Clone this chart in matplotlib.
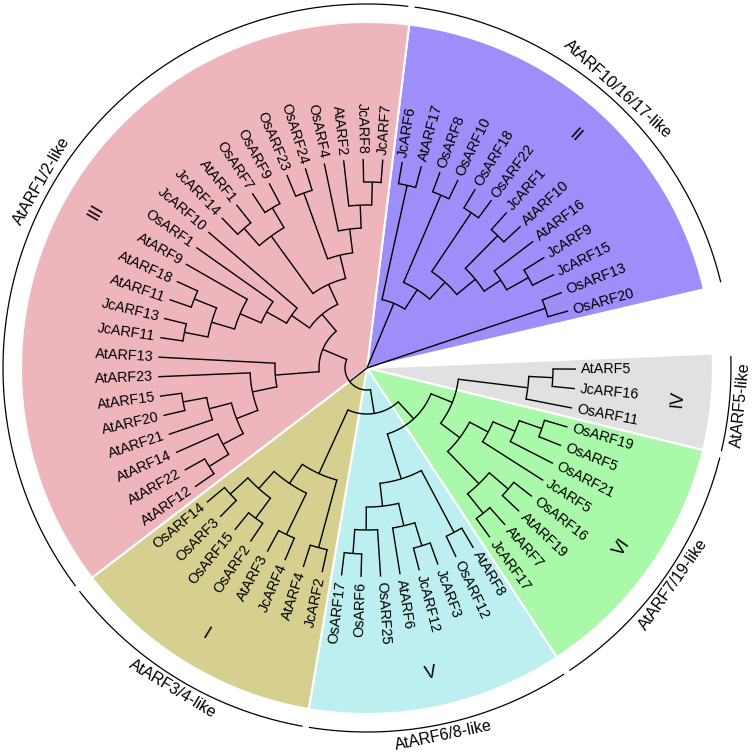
import numpy as np
import matplotlib
matplotlib.use("Agg")
import matplotlib.pyplot as plt
from matplotlib.patches import Wedge

# ---------------- data ----------------
clade_II = ["JcARF6", "AtARF17", "OsARF8", "OsARF10", "OsARF18", "OsARF22", "JcARF1",
            "AtARF10", "AtARF16", "JcARF9", "JcARF15", "OsARF13", "OsARF20"]
clade_IV = ["AtARF5", "JcARF16", "OsARF11"]
clade_VI = ["OsARF19", "OsARF5", "OsARF21", "JcARF5", "OsARF16", "AtARF19", "AtARF7", "JcARF17"]
clade_V = ["AtARF8", "OsARF12", "JcARF3", "JcARF12", "AtARF6", "OsARF25", "OsARF6", "OsARF17"]
clade_I = ["JcARF2", "AtARF4", "JcARF4", "AtARF3", "OsARF2", "OsARF15", "OsARF3", "OsARF14"]
clade_III = ["AtARF12", "AtARF22", "AtARF14", "AtARF21", "AtARF20", "AtARF15", "AtARF23",
             "AtARF13", "JcARF11", "JcARF13", "AtARF11", "AtARF18", "AtARF9", "OsARF1",
             "JcARF10", "JcARF14", "AtARF1", "OsARF7", "OsARF9", "OsARF23", "OsARF24",
             "OsARF4", "AtARF2", "JcARF8", "JcARF7"]

clade_order = [clade_II, None, clade_IV, clade_VI, clade_V, clade_I, clade_III]
gap_slots = 2
numerals = ["II", "IV", "VI", "V", "I", "III"]
group_labels = ["AtARF10/16/17-like", "AtARF5-like", "AtARF7/19-like",
                "AtARF6/8-like", "AtARF3/4-like", "AtARF1/2-like"]
clade_colors = ["#9D8EF9", "#E1E1E1", "#AAF8AA", "#BDEFF1", "#D6D090", "#EFB5BD"]

# tree topology: (node radius, [children]); leaves are names
II_main = (70, [(187, ["JcARF6", "AtARF17"]),
                (93, [(188, ["OsARF8", "OsARF10"]),
                      (116, [(187, ["OsARF18", "OsARF22"]),
                             (140, [(186, ["JcARF1", "AtARF10"]),
                                    (160, ["AtARF16", (185, ["JcARF9", "JcARF15"])])])])])])
II_b = (188, ["OsARF13", "OsARF20"])
IV_t = (162, [(186, ["AtARF5", "JcARF16"]), "OsARF11"])
VI_t = (116, [(137, [(161, [(185, ["OsARF19", "OsARF5"]), "OsARF21"]), "JcARF5"]),
              (161, [(186, ["OsARF16", "AtARF19"]), (186, ["AtARF7", "JcARF17"])])])
V_t = (116, [(139, [(162, [(186, ["OsARF17", "OsARF6"]), "OsARF25"]),
                    (162, ["AtARF6", (186, ["JcARF12", "JcARF3"])])]),
             (186, ["OsARF12", "AtARF8"])])
I_t = (116, [(139, [(162, [(186, ["OsARF14", "OsARF3"]), (187, ["OsARF2", "OsARF15"])]),
                    (185, ["JcARF4", "AtARF3"])]),
             (186, ["JcARF2", "AtARF4"])])
III_t = (48, [(70, [(92, [(115, [(138, [(162, [(186, ["AtARF18", "AtARF11"]),
                                                (186, ["JcARF13", "JcARF11"])]), "AtARF9"]),
                                 "OsARF1"]), "JcARF10"]),
                    (92, [(163, [(186, ["AtARF1", "JcARF14"]), (186, ["OsARF7", "OsARF9"])]),
                          (116, [(186, ["OsARF23", "OsARF24"]),
                                 (140, ["OsARF4", (163, ["AtARF2", (186, ["JcARF8", "JcARF7"])])])])])]),
              (92, ["AtARF13", (117, ["AtARF23",
                                      (140, [(163, [(187, ["AtARF15", "AtARF20"]), "AtARF21"]),
                                             (163, ["AtARF14", (186, ["AtARF22", "AtARF12"])])])])])])
tree = (0, [II_main, II_b, (22, [III_t, (46, [I_t, (69, [V_t, (92, [VI_t, IV_t])])])])])

# ---------------- geometry ----------------
TIP_R = 209
LABEL_R = 214
WEDGE_R = 346
ARC_R = 364
GROUP_R = 375.5
NUM_R = 312
START = 80.3
n_slots = sum(len(c) for c in clade_order if c) + gap_slots
STEP = 360.0 / n_slots

leaf_angle = {}
spans = []
k = 0
for c in clade_order:
    if c is None:
        k += gap_slots
        continue
    a_first = START - k * STEP
    for name in c:
        leaf_angle[name] = START - k * STEP
        k += 1
    a_last = START - (k - 1) * STEP
    spans.append((a_last - STEP / 2, a_first + STEP / 2))

fig = plt.figure(figsize=(7.52, 7.52), dpi=100)
ax = fig.add_axes([0, 0, 1, 1])
ax.set_xlim(-367, 385)
ax.set_ylim(-384, 368)
ax.set_aspect("equal")
ax.axis("off")

font = ["Liberation Sans", "DejaVu Sans"]

# wedges
for (t1, t2), col in zip(spans, clade_colors):
    ax.add_patch(Wedge((0, 0), WEDGE_R, t1, t2, facecolor=col, edgecolor="white",
                       linewidth=1.5, zorder=1))

def pol(r, a):
    t = np.deg2rad(a)
    return r * np.cos(t), r * np.sin(t)

LW = 1.0

def draw(node):
    if isinstance(node, str):
        return leaf_angle[node], TIP_R
    r, children = node
    info = [draw(ch) for ch in children]
    angs = [a for a, _ in info]
    lo, hi = min(angs), max(angs)
    for a, cr in info:
        x0, y0 = pol(r, a)
        x1, y1 = pol(cr, a)
        ax.plot([x0, x1], [y0, y1], color="black", lw=LW, solid_capstyle="butt", zorder=3)
    if r > 0:
        th = np.linspace(lo, hi, 80)
        xs, ys = pol(r, th)
        ax.plot(xs, ys, color="black", lw=LW, zorder=3)
    return (lo + hi) / 2, r

draw(tree)

# leaf labels
for name, a in leaf_angle.items():
    x, y = pol(LABEL_R, a)
    an = (a + 180) % 360 - 180
    if -90 <= an <= 90:
        rot, ha = an, "left"
    else:
        rot, ha = an + 180 if an < 0 else an - 180, "right"
    ax.text(x, y, name, rotation=rot, rotation_mode="anchor", ha=ha, va="center",
            fontsize=10.4, family=font, zorder=4)

def tang_rot(a):
    an = (a + 180) % 360 - 180
    return an - 90 if an > 0 else an + 90

# numerals, outer arcs, group labels
for (t1, t2), num, lab in zip(spans, numerals, group_labels):
    mid = (t1 + t2) / 2
    x, y = pol(NUM_R, mid)
    ax.text(x, y, num, rotation=tang_rot(mid), rotation_mode="anchor", ha="center",
            va="center", fontsize=13, family=font, zorder=4)
    th = np.linspace(t1 + 0.6, t2 - 0.6, 200)
    xs, ys = pol(ARC_R, th)
    ax.plot(xs, ys, color="black", lw=0.9, zorder=3)
    x, y = pol(GROUP_R, mid)
    ax.text(x, y, lab, rotation=tang_rot(mid), rotation_mode="anchor", ha="center",
            va="center", fontsize=11.5, family=font, zorder=4)

fig.savefig("out.png", dpi=100, facecolor="white")
